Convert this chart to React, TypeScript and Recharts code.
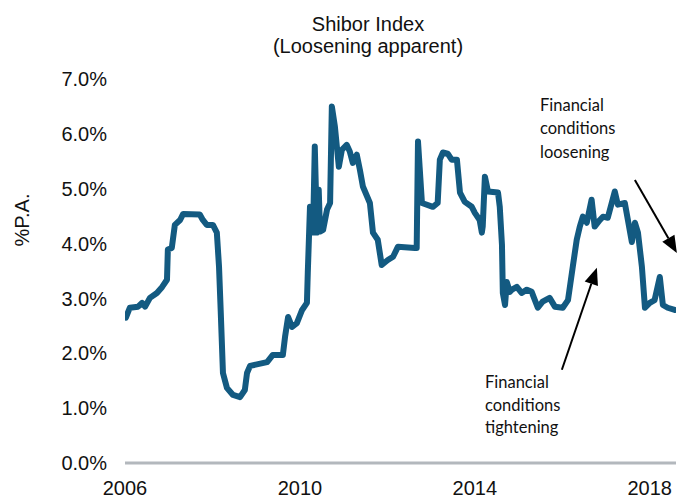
import React from "react";
import { LineChart, Line, XAxis, YAxis, ReferenceLine } from "recharts";

// Decimal-year dates and Shibor values (% p.a.)
const dates: number[] = [
  2006.02, 2006.11, 2006.3, 2006.39, 2006.46, 2006.57, 2006.73, 2006.85, 2006.96, 2006.98,
  2007.07, 2007.14, 2007.26, 2007.33, 2007.71, 2007.78, 2007.87, 2008.01, 2008.1, 2008.15,
  2008.19, 2008.24, 2008.33, 2008.47, 2008.63, 2008.74, 2008.79, 2008.86, 2009.25, 2009.38,
  2009.61, 2009.66, 2009.73, 2009.82, 2009.93, 2010.05, 2010.16, 2010.18, 2010.23, 2010.3,
  2010.34, 2010.39, 2010.43, 2010.46, 2010.53, 2010.62, 2010.69, 2010.73, 2010.8, 2010.89,
  2010.96, 2011.07, 2011.14, 2011.21, 2011.3, 2011.37, 2011.44, 2011.6, 2011.67, 2011.78,
  2011.87, 2012.01, 2012.13, 2012.24, 2012.63, 2012.67, 2012.7, 2012.79, 2013.04, 2013.15,
  2013.2, 2013.27, 2013.38, 2013.47, 2013.59, 2013.66, 2013.77, 2013.93, 2014.0, 2014.11,
  2014.16, 2014.18, 2014.23, 2014.3, 2014.53, 2014.57, 2014.62, 2014.64, 2014.69, 2014.73,
  2014.8, 2014.85, 2014.96, 2015.07, 2015.19, 2015.3, 2015.44, 2015.55, 2015.71, 2015.83,
  2016.01, 2016.13, 2016.24, 2016.33, 2016.4, 2016.47, 2016.56, 2016.67, 2016.74, 2016.86,
  2016.93, 2017.04, 2017.13, 2017.2, 2017.27, 2017.43, 2017.5, 2017.59, 2017.66, 2017.73,
  2017.82, 2017.89, 2018.0, 2018.11, 2018.23, 2018.3, 2018.41, 2018.57,
];

const shibor: number[] = [
  2.65, 2.83, 2.85, 2.92, 2.85, 3.01, 3.1, 3.21, 3.34, 3.89,
  3.92, 4.34, 4.43, 4.54, 4.53, 4.43, 4.34, 4.34, 4.2, 3.58,
  2.74, 1.64, 1.37, 1.24, 1.2, 1.33, 1.64, 1.77, 1.84, 1.97,
  1.97, 2.3, 2.66, 2.48, 2.55, 2.79, 2.92, 3.47, 4.67, 4.2,
  5.77, 4.2, 4.98, 4.22, 4.25, 4.62, 4.74, 6.5, 6.13, 5.4,
  5.71, 5.8, 5.68, 5.47, 5.62, 5.35, 5.04, 4.74, 4.2, 4.07,
  3.61, 3.7, 3.76, 3.94, 3.92, 3.92, 5.86, 4.74, 4.67, 4.74,
  5.53, 5.66, 5.64, 5.53, 5.53, 4.93, 4.76, 4.67, 4.56, 4.43,
  4.2, 4.31, 5.22, 4.95, 4.93, 4.67, 3.98, 3.1, 2.88, 3.3,
  3.12, 3.16, 3.21, 3.1, 3.16, 3.12, 2.83, 2.94, 3.01, 2.85,
  2.83, 2.97, 3.58, 4.07, 4.31, 4.49, 4.38, 4.8, 4.31, 4.43,
  4.49, 4.47, 4.74, 4.95, 4.71, 4.74, 4.43, 4.03, 4.38, 4.2,
  3.58, 2.83, 2.92, 2.97, 3.39, 2.88, 2.83, 2.79,
];

const xTicks: number[] = [2006, 2010, 2014, 2018];
const yTicks: number[] = [0, 1, 2, 3, 4, 5, 6, 7];

const titleLines: string[] = ["Shibor Index", "(Loosening apparent)"];
const yAxisTitle = "%P.A.";
const looseningText: string[] = ["Financial", "conditions", "loosening"];
const tighteningText: string[] = ["Financial", "conditions", "tightening"];

// arrow segments in data coordinates [tail, tip]
const looseningArrow = [
  { x: 2017.66, y: 5.16 },
  { x: 2018.62, y: 3.83 },
];
const tighteningArrow = [
  { x: 2015.99, y: 1.7 },
  { x: 2016.79, y: 3.56 },
];

const data = dates.map((d, i) => ({ date: d, value: shibor[i] }));

const ArrowShape = (props: any) => {
  const { x1, y1, x2, y2 } = props;
  if ([x1, y1, x2, y2].some((v) => v === undefined || isNaN(v))) return null;
  const ang = Math.atan2(y2 - y1, x2 - x1);
  const len = 17;
  const hw = 7;
  const bx = x2 - len * Math.cos(ang);
  const by = y2 - len * Math.sin(ang);
  const px = -Math.sin(ang) * hw;
  const py = Math.cos(ang) * hw;
  return (
    <g>
      <line x1={x1} y1={y1} x2={bx} y2={by} stroke="#000" strokeWidth={2} />
      <polygon
        points={`${x2},${y2} ${bx + px},${by + py} ${bx - px},${by - py}`}
        fill="#000"
      />
    </g>
  );
};

const font = "'Liberation Sans', Arial, sans-serif";
const noteFont = "Lato, 'Open Sans', sans-serif";

export default function App() {
  return (
    <div style={{ position: "fixed", left: 0, top: 0, width: 681, height: 498, background: "#fff" }}>
      <LineChart
        width={681}
        height={498}
        data={data}
        margin={{ top: 79, right: 5, bottom: 0, left: 0 }}
      >
        <XAxis
          dataKey="date"
          type="number"
          domain={[2006, 2018.6]}
          ticks={xTicks}
          tickFormatter={(v: number) => String(v)}
          allowDataOverflow
          height={35}
          tickSize={0}
          tickMargin={18}
          tickLine={false}
          axisLine={{ stroke: "#B3B8BD", strokeWidth: 3 }}
          tick={{ fill: "#111", fontSize: 20, fontFamily: font }}
        />
        <YAxis
          type="number"
          domain={[0, 7]}
          ticks={yTicks}
          tickFormatter={(v: number) => `${v.toFixed(1)}%`}
          width={125}
          tickSize={0}
          tickMargin={18}
          tickLine={false}
          axisLine={false}
          tick={{ fill: "#111", fontSize: 20, fontFamily: font }}
        />
        <Line
          type="linear"
          dataKey="value"
          stroke="#135A81"
          strokeWidth={6}
          strokeLinejoin="round"
          strokeLinecap="round"
          dot={false}
          isAnimationActive={false}
        />
        <ReferenceLine
          segment={looseningArrow}
          ifOverflow="visible"
          shape={ArrowShape}
        />
        <ReferenceLine
          segment={tighteningArrow}
          ifOverflow="visible"
          shape={ArrowShape}
        />
      </LineChart>
      <svg
        width={681}
        height={498}
        style={{ position: "absolute", left: 0, top: 0, pointerEvents: "none" }}
      >
        <text x={368} y={31} textAnchor="middle" fontSize={20} fontFamily={font} fill="#111">
          {titleLines[0]}
        </text>
        <text x={368} y={53} textAnchor="middle" fontSize={20} fontFamily={font} fill="#111">
          {titleLines[1]}
        </text>
        <text
          transform="translate(29,220) rotate(-90)"
          textAnchor="middle"
          fontSize={20}
          fontFamily={font}
          fill="#111"
        >
          {yAxisTitle}
        </text>
        {looseningText.map((t, i) => (
          <text key={"l" + i} x={540} y={110.5 + i * 23.5} fontSize={16.5} fontFamily={noteFont} fill="#111">
            {t}
          </text>
        ))}
        {tighteningText.map((t, i) => (
          <text key={"t" + i} x={485} y={388 + i * 22.5} fontSize={16.5} fontFamily={noteFont} fill="#111">
            {t}
          </text>
        ))}
      </svg>
    </div>
  );
}
